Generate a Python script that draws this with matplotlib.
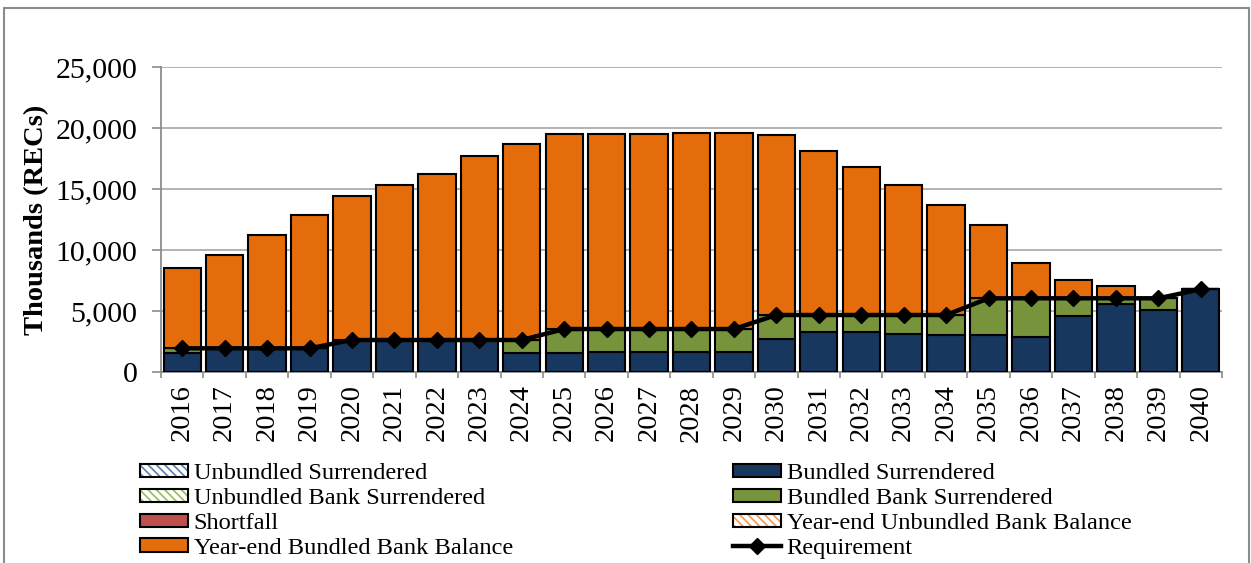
import matplotlib
matplotlib.use("Agg")
import matplotlib.pyplot as plt
import numpy as np
from matplotlib.patches import Rectangle

plt.rcParams['font.family'] = ['Liberation Serif', 'DejaVu Serif']
plt.rcParams['hatch.linewidth'] = 1.2

years = [str(y) for y in range(2016, 2041)]

# thousands of RECs per year
unbundled_surr = [0] * 25
bundled_surr = [1580, 1940, 1940, 1940, 2620, 2620, 2620, 2620, 1530, 1580,
                1660, 1660, 1660, 1660, 2680, 3300, 3250, 3110, 3030, 3030,
                2900, 4610, 5550, 5080, 6780]
unbundled_bank_surr = [0] * 25
bundled_bank_surr = [360, 0, 0, 0, 0, 0, 0, 0, 1090, 1940,
                     1860, 1860, 1860, 1860, 1990, 1370, 1420, 1560, 1640, 3010,
                     3140, 1430, 490, 960, 0]
shortfall = [0] * 25
ye_unbundled_bal = [0] * 25
ye_bundled_bal = [6560, 7620, 9260, 10900, 11810, 12680, 13610, 15080, 16040, 15990,
                  15990, 16020, 16050, 16050, 14790, 13470, 12130, 10630, 9040, 6040,
                  2920, 1500, 1030, 0, 0]
requirement = [1940, 1940, 1940, 1940, 2620, 2620, 2620, 2620, 2620, 3520,
               3520, 3520, 3520, 3520, 4670, 4670, 4670, 4670, 4670, 6040,
               6040, 6040, 6040, 6040, 6780]

fig = plt.figure(figsize=(12.51, 5.63), dpi=100)
ax = fig.add_axes([0.1287, 0.3393, 0.8481, 0.5417])

x = np.arange(len(years))
w = 0.88

# (values, label, face, hatch colour or None)
series = [
    (unbundled_surr, "Unbundled Surrendered", "white", "#5B7DB1"),
    (bundled_surr, "Bundled Surrendered", "#17375E", None),
    (unbundled_bank_surr, "Unbundled Bank Surrendered", "white", "#9BBB59"),
    (bundled_bank_surr, "Bundled Bank Surrendered", "#77933C", None),
    (shortfall, "Shortfall", "#C0504D", None),
    (ye_unbundled_bal, "Year-end Unbundled Bank Balance", "white", "#F79646"),
    (ye_bundled_bal, "Year-end Bundled Bank Balance", "#E46C0A", None),
]

bottom = np.zeros(len(years))
handles = {}
for vals, label, face, hcol in series:
    vals = np.array(vals, dtype=float)
    if hcol is None:
        bars = ax.bar(x, vals, w, bottom=bottom, color=face, edgecolor="black",
                      linewidth=1.5, label=label, zorder=3)
    else:
        bars = ax.bar(x, vals, w, bottom=bottom, color=face, edgecolor="black",
                      linewidth=1.5, hatch="\\\\\\\\", label=label, zorder=2)
        for p in bars.patches:
            p._hatch_color = matplotlib.colors.to_rgba(hcol)
    handles[label] = bars
    bottom += vals

line, = ax.plot(x, requirement, color="black", linewidth=3.2, marker="D",
                markersize=8, zorder=5, label="Requirement")
handles["Requirement"] = line

ax.set_xlim(-0.5, len(years) - 0.5)
ax.set_ylim(0, 25000)
ax.set_yticks(np.arange(0, 25001, 5000))
ax.set_yticklabels([f"{v:,}" for v in range(0, 25001, 5000)], fontsize=21.5)
ax.set_xticks(x)
ax.set_xticklabels(years, rotation=90, fontsize=20.5)
ax.set_xticks(np.arange(-0.5, len(years), 1), minor=True)
ax.tick_params(axis="x", which="major", length=0, pad=9)
ax.tick_params(axis="x", which="minor", length=4, color="#8C8C8C", width=1.2)
ax.tick_params(axis="y", length=6.5, color="#8C8C8C", width=1.2, pad=10.5)
ax.grid(axis="y", color="#A6A6A6", linewidth=1.2, zorder=0)
ax.set_axisbelow(True)
for s in ["top", "right"]:
    ax.spines[s].set_visible(False)
for s in ["left", "bottom"]:
    ax.spines[s].set_color("#8C8C8C")
    ax.spines[s].set_linewidth(1.3)

ax.set_ylabel("Thousands (RECs)", fontsize=20.5, fontweight="bold")
ax.yaxis.set_label_coords(-0.105, 0.5)

left_items = ["Unbundled Surrendered", "Unbundled Bank Surrendered",
              "Shortfall", "Year-end Bundled Bank Balance"]
right_items = ["Bundled Surrendered", "Bundled Bank Surrendered",
               "Year-end Unbundled Bank Balance", "Requirement"]
leg_kw = dict(loc="upper left", frameon=False, fontsize=17.6, borderpad=0,
              borderaxespad=0, labelspacing=0.16, handlelength=1.95,
              handleheight=0.45, handletextpad=0.25)
fig.legend([handles[k] for k in left_items], left_items,
           bbox_to_anchor=(140 / 1251, 1 - 463 / 563), **leg_kw)
fig.legend([handles[k] for k in right_items], right_items,
           bbox_to_anchor=(733 / 1251, 1 - 463 / 563), **leg_kw)

# chart area border
fig.patches.append(Rectangle((4 / 1251, -0.05), 1245 / 1251, 1.05 - 8 / 563,
                             transform=fig.transFigure, fill=False,
                             edgecolor="#8C8C8C", linewidth=1.5))

fig.savefig("out.png", dpi=100)
